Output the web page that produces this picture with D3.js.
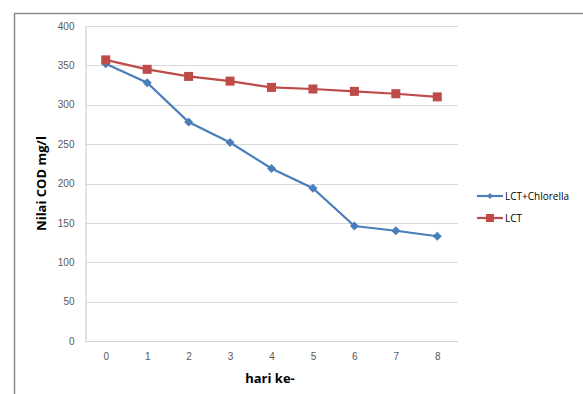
<!DOCTYPE html>
<html>
<head>
<meta charset="utf-8">
<script src="https://cdn.jsdelivr.net/npm/d3@7"></script>
<style>
  body { margin: 0; background: #fff; }
  svg { display: block; font-family: "Open Sans", "DejaVu Sans", sans-serif; }
</style>
</head>
<body>
<div id="chart"></div>
<script>
let days = [0, 1, 2, 3, 4, 5, 6, 7, 8];
let chlorella = [352, 328, 278, 252, 219, 194, 146, 140, 133];
let lct = [357, 345, 336, 330, 322, 320, 317, 314, 310];
let yTicks = [0, 50, 100, 150, 200, 250, 300, 350, 400];
let seriesNames = ["LCT+Chlorella", "LCT"];
let seriesColors = ["#4a7ebb", "#be4b48"];

let width = 583, height = 394;
let plot = { left: 85, right: 458, top: 26, bottom: 341 };

let svg = d3.select("#chart").append("svg")
    .attr("width", width)
    .attr("height", height);

// outer chart frame (cut off at right and bottom)
svg.append("path")
    .attr("d", "M14.5," + height + "V13.5H" + width)
    .attr("fill", "none")
    .attr("stroke", "#8c8c8c")
    .attr("stroke-width", 1.5);

let x = d3.scalePoint()
    .domain(days)
    .range([plot.left, plot.right])
    .padding(0.5);

let y = d3.scaleLinear()
    .domain([0, 400])
    .range([plot.bottom, plot.top]);

// gridlines
svg.append("g")
    .selectAll("line")
    .data(yTicks)
    .join("line")
    .attr("x1", plot.left)
    .attr("x2", plot.right)
    .attr("y1", d => Math.round(y(d)) + 0.5)
    .attr("y2", d => Math.round(y(d)) + 0.5)
    .attr("stroke", "#d9d9d9")
    .attr("stroke-width", 1.2);

// y axis
let yAxis = svg.append("g")
    .attr("transform", "translate(" + (plot.left + 0.5) + ",0)")
    .call(d3.axisLeft(y).tickValues(yTicks).tickSize(0).tickPadding(11));
yAxis.select(".domain").attr("stroke", "#d0d0d0").attr("stroke-width", 1.2);
yAxis.selectAll("text").attr("fill", "#595959").style("font-size", "10px");

// x axis
let xAxis = svg.append("g")
    .attr("transform", "translate(0," + (plot.bottom + 0.5) + ")")
    .call(d3.axisBottom(x).tickSize(0).tickPadding(11));
xAxis.select(".domain").attr("stroke", "#d0d0d0").attr("stroke-width", 1.2)
    .attr("d", "M" + plot.left + ",0H" + plot.right);
xAxis.selectAll("text").attr("fill", "#595959").style("font-size", "10px");

// axis titles
svg.append("text")
    .attr("transform", "translate(46," + ((plot.top + plot.bottom) / 2) + ") rotate(-90)")
    .attr("text-anchor", "middle")
    .style("font-size", "13px")
    .style("font-weight", "bold")
    .attr("fill", "#000")
    .text("Nilai COD mg/l");

svg.append("text")
    .attr("x", 270)
    .attr("y", 383)
    .attr("text-anchor", "middle")
    .style("font-size", "13px")
    .style("font-weight", "bold")
    .attr("fill", "#000")
    .text("hari ke-");

let line = d3.line()
    .x((d, i) => x(days[i]))
    .y(d => y(d));

function diamond(g, color) {
    g.append("path")
        .attr("d", "M0,-4.5L4.5,0L0,4.5L-4.5,0Z")
        .attr("fill", color);
}

function square(g, color) {
    g.append("rect")
        .attr("x", -4.5).attr("y", -4.5)
        .attr("width", 9).attr("height", 9)
        .attr("fill", color);
}

let series = [chlorella, lct];
let markers = [diamond, square];

series.forEach((values, s) => {
    svg.append("path")
        .datum(values)
        .attr("d", line)
        .attr("fill", "none")
        .attr("stroke", seriesColors[s])
        .attr("stroke-width", 2.2);
    svg.append("g")
        .selectAll("g")
        .data(values)
        .join("g")
        .attr("transform", (d, i) => "translate(" + x(days[i]) + "," + y(d) + ")")
        .each(function () { markers[s](d3.select(this), seriesColors[s]); });
});

// legend
let legend = svg.append("g").attr("transform", "translate(477,196)");
seriesNames.forEach((name, s) => {
    let row = legend.append("g").attr("transform", "translate(0," + (s * 22) + ")");
    row.append("line")
        .attr("x1", 0).attr("x2", 26)
        .attr("stroke", seriesColors[s])
        .attr("stroke-width", 2.2);
    let m = row.append("g").attr("transform", "translate(13,0)");
    if (s === 0) {
        m.append("path").attr("d", "M0,-3L3,0L0,3L-3,0Z").attr("fill", seriesColors[s]);
    } else {
        m.append("rect").attr("x", -4).attr("y", -4).attr("width", 8).attr("height", 8)
            .attr("fill", seriesColors[s]);
    }
    row.append("text")
        .attr("x", 28)
        .attr("dy", "0.35em")
        .style("font-size", "10px")
        .attr("fill", "#000")
        .text(name);
});
</script>
</body>
</html>
